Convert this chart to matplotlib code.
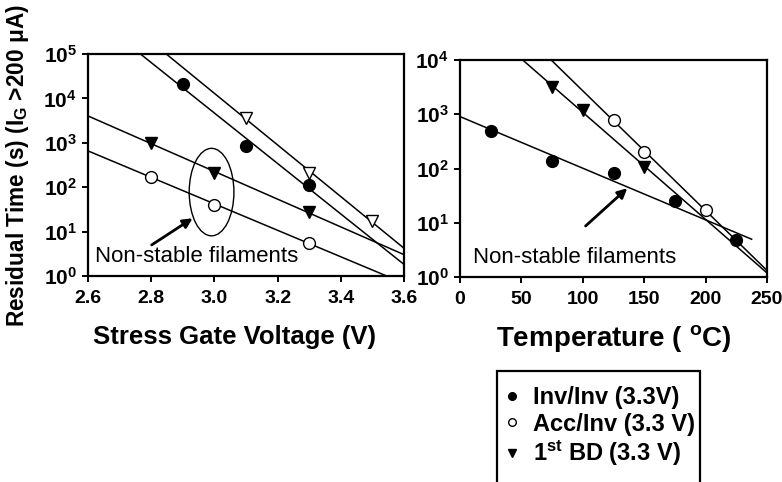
import numpy as np
import matplotlib
matplotlib.use("Agg")
import matplotlib.pyplot as plt
from matplotlib.lines import Line2D
from matplotlib.patches import Ellipse, Rectangle

plt.rcParams['font.family'] = ['Liberation Sans', 'DejaVu Sans']
plt.rcParams['mathtext.fontset'] = 'custom'
plt.rcParams['mathtext.rm'] = 'Liberation Sans'
plt.rcParams['mathtext.bf'] = 'Liberation Sans:bold'
plt.rcParams['mathtext.it'] = 'Liberation Sans:italic'
plt.rcParams['mathtext.default'] = 'bf'

# left panel: residual time vs stress gate voltage
volt_inv = [2.9, 3.1, 3.3]
time_inv_v = [21000, 860, 112]
volt_acc = [2.8, 3.0, 3.3]
time_acc_v = [172, 40, 5.5]
volt_bd = [2.8, 3.0, 3.3]
time_bd_v = [1000, 210, 27]
volt_open_tri = [3.1, 3.3, 3.5]
time_open_tri = [3600, 210, 17]

# right panel: residual time vs temperature
temp_inv = [25, 75, 125, 175, 225]
time_inv_t = [500, 138, 81, 25, 4.9]
temp_acc = [125, 150, 200]
time_acc_t = [780, 204, 17]
temp_bd = [75, 100, 150]
time_bd_t = [3150, 1200, 108]

volt_ticks = [2.6, 2.8, 3.0, 3.2, 3.4, 3.6]
temp_ticks = [0, 50, 100, 150, 200, 250]

legend_labels = ['Inv/Inv (3.3V)', 'Acc/Inv (3.3 V)', r'1$^{\mathbf{st}}$ BD (3.3 V)']


def exp_fit(x, y, x_from, x_to):
    k, b = np.polyfit(x, np.log10(y), 1)
    xs = np.linspace(x_from, x_to, 200)
    return xs, 10 ** (k * xs + b)


def style_axes(ax):
    for s in ax.spines.values():
        s.set_linewidth(1.6)
    ax.tick_params(which='major', direction='out', length=4, width=1.4,
                   labelsize=15, pad=4)
    ax.tick_params(axis='x', labelsize=14, pad=6)
    ax.tick_params(which='minor', length=0)
    for lab in ax.get_xticklabels() + ax.get_yticklabels():
        lab.set_fontweight('bold')


fig = plt.figure(figsize=(7.82, 4.82), dpi=100)
ax1 = fig.add_axes([88 / 782, 1 - 276 / 482, 316 / 782, 222 / 482])
ax2 = fig.add_axes([460 / 782, 1 - 277 / 482, 307 / 782, 217 / 482])

ms = 8.5
mew = 1.0

# left panel
for x, y, face, mk in [(volt_inv, time_inv_v, 'black', 'o'),
                       (volt_open_tri, time_open_tri, 'white', 'v'),
                       (volt_bd, time_bd_v, 'black', 'v'),
                       (volt_acc, time_acc_v, 'white', 'o')]:
    xs, ys = exp_fit(x, y, 2.6, 3.6)
    ax1.plot(xs, ys, color='black', lw=1.1, zorder=2)
    ax1.plot(x, y, linestyle='none', marker=mk, ms=ms, mfc=face, mec='black',
             mew=mew, zorder=3)

ax1.set_yscale('log')
ax1.set_xlim(2.6, 3.6)
ax1.set_ylim(1, 1e5)
ax1.set_xticks(volt_ticks)
ax1.set_xticklabels([f'{v:.1f}' for v in volt_ticks])
ax1.set_yticks([10 ** k for k in range(6)])
ax1.set_yticklabels([rf'$10^{{{k}}}$' for k in range(6)])
style_axes(ax1)
ax1.set_xlabel('Stress Gate Voltage (V)', fontsize=18.5, fontweight='bold',
               labelpad=13, x=0.465)

ax1.add_patch(Ellipse((0.391, 0.378), 0.1415, 0.394, transform=ax1.transAxes,
                      fill=False, edgecolor='black', lw=1.0, zorder=4))
ax1.annotate('', xy=(0.331, 0.26), xytext=(0.2016, 0.14),
             xycoords='axes fraction', textcoords='axes fraction',
             arrowprops=dict(arrowstyle='-|>', color='black', lw=2,
                             mutation_scale=14, shrinkA=0, shrinkB=0))
ax1.text(0.022, 0.087, 'Non-stable filaments', transform=ax1.transAxes,
         fontsize=16, va='center', ha='left')

# right panel
for x, y, face, mk, x_to in [(temp_inv, time_inv_t, 'black', 'o', 237.5),
                             (temp_bd, time_bd_t, 'black', 'v', 250),
                             (temp_acc, time_acc_t, 'white', 'o', 250)]:
    xs, ys = exp_fit(x, y, 0, x_to)
    ax2.plot(xs, ys, color='black', lw=1.1, zorder=2)
    ax2.plot(x, y, linestyle='none', marker=mk, ms=ms, mfc=face, mec='black',
             mew=mew, zorder=3)

ax2.set_yscale('log')
ax2.set_xlim(0, 250)
ax2.set_ylim(1, 1e4)
ax2.set_xticks(temp_ticks)
ax2.set_yticks([10 ** k for k in range(5)])
ax2.set_yticklabels([rf'$10^{{{k}}}$' for k in range(5)])
style_axes(ax2)
ax2.set_xlabel(r'Temperature ( $^{\mathbf{o}}$C)', fontsize=20, fontweight='bold', labelpad=11)

ax2.annotate('', xy=(0.545, 0.409), xytext=(0.409, 0.235),
             xycoords='axes fraction', textcoords='axes fraction',
             arrowprops=dict(arrowstyle='-|>', color='black', lw=2,
                             mutation_scale=14, shrinkA=0, shrinkB=0))
ax2.text(0.043, 0.0876, 'Non-stable filaments', transform=ax2.transAxes,
         fontsize=16, va='center', ha='left')

fig.text(18 / 782, 1 - 327 / 482, r'Residual Time (s) (I$_{G}$ >200 μA)',
         rotation=90, fontsize=16.3, fontweight='bold', ha='center', va='bottom')

# legend, box open below the figure edge
fig.patches.append(Rectangle((497 / 782, -0.05), 203 / 782, 0.05 + 111 / 482,
                             transform=fig.transFigure, fill=False,
                             edgecolor='black', lw=1.6, clip_on=False))
handles = [Line2D([], [], linestyle='none', marker='o', ms=5.5, mfc='black', mec='black'),
           Line2D([], [], linestyle='none', marker='o', ms=5.5, mfc='white', mec='black'),
           Line2D([], [], linestyle='none', marker='v', ms=5.5, mfc='black', mec='black')]
fig.legend(handles, legend_labels, loc='upper left',
           bbox_to_anchor=(503 / 782, 1 - 386 / 482), frameon=False,
           prop={'size': 17, 'weight': 'bold'}, handlelength=0.8,
           handletextpad=0.45, labelspacing=0.15, borderaxespad=0, borderpad=0)

fig.savefig('out.png', dpi=100)
